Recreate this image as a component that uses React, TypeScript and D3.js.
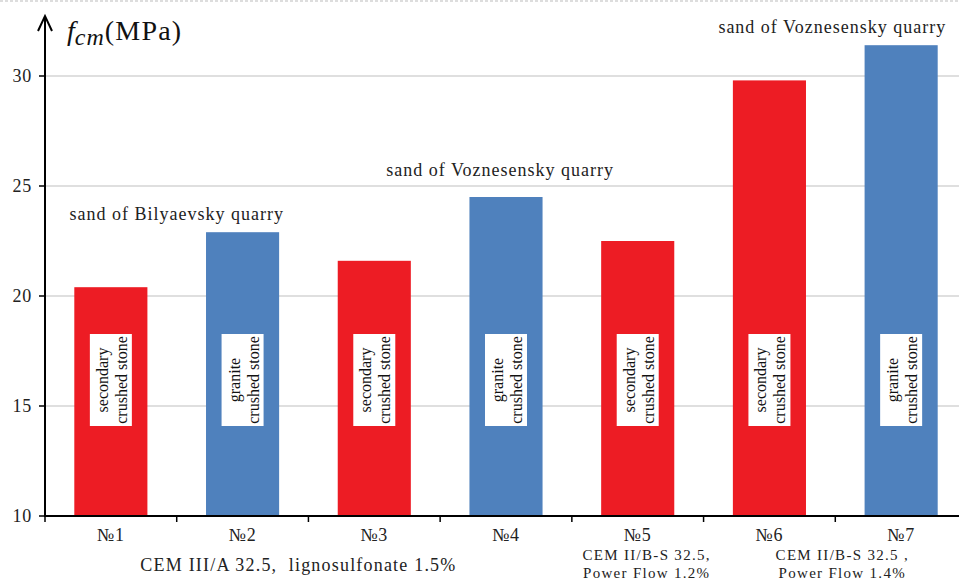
import { scaleBand, scaleLinear } from "d3";

const categories = ["№1", "№2", "№3", "№4", "№5", "№6", "№7"];
const values = [20.4, 22.9, 21.6, 24.5, 22.5, 29.8, 31.4];
const stoneTypes = ["secondary", "granite", "secondary", "granite", "secondary", "secondary", "granite"];
const yTicks = [10, 15, 20, 25, 30];
const sandNotes = [
  { text: "sand of Bilyaevsky quarry", after: "№1", value: 23.45, dx: 0 },
  { text: "sand of Voznesensky quarry", after: "№3", value: 25.45, dx: 60 },
  { text: "sand of Voznesensky quarry", after: "№6", value: 31.95, dx: -3 },
];
const groups = [
  { lines: ["CEM III/A 32.5,  lignosulfonate 1.5%"], from: "№1", to: "№4", dx: -10, ls: 1.2 },
  { lines: ["CEM II/B-S 32.5,", "Power Flow 1.2%"], from: "№5", to: "№5", dx: 9, ls: 1.3 },
  { lines: ["CEM II/B-S 32.5 ,", "Power Flow 1.4%"], from: "№6", to: "№7", dx: 7, ls: 1.3 },
];

const RED = "#ED1C24";
const BLUE = "#4F81BD";
const FONT = "'Liberation Serif', 'Times New Roman', serif";

export default function App() {
  const width = 959;
  const height = 582;
  const marginLeft = 45;
  const axisY = 516;

  const x = scaleBand<string>()
    .domain(categories)
    .range([marginLeft, marginLeft + 922])
    .paddingInner(0.445)
    .paddingOuter(0.2225);
  const step = x.step();
  const bandStart = (c: string) => (x(c) as number) - step * 0.2225;

  const y = scaleLinear([10, 30], [axisY, 76]);

  return (
    <svg
      width={width}
      height={height}
      style={{ position: "absolute", left: 0, top: 0, background: "white" }}
      fontFamily={FONT}
    >
      <line x1={0} x2={width} y1={1} y2={1} stroke="#bbb" strokeDasharray="3,2" />

      {yTicks.slice(1).map((t) => (
        <line key={t} x1={marginLeft} x2={width} y1={y(t)} y2={y(t)} stroke="#d4d4d4" strokeWidth={1.5} />
      ))}

      {categories.map((c, i) => (
        <rect
          key={c}
          x={x(c)}
          y={y(values[i])}
          width={x.bandwidth()}
          height={axisY - y(values[i])}
          fill={stoneTypes[i] === "granite" ? BLUE : RED}
        />
      ))}

      {categories.map((c, i) => {
        const cx = (x(c) as number) + x.bandwidth() / 2;
        const cy = 380;
        return (
          <g key={c}>
            <rect x={cx - 21} y={334} width={42} height={92} fill="white" />
            <text
              transform={`translate(${cx},${cy}) rotate(-90)`}
              textAnchor="middle"
              fontFamily={FONT}
              fontSize={16}
              fill="#111"
            >
              <tspan x={0} y={-3}>{stoneTypes[i]}</tspan>
              <tspan x={0} y={16}>crushed stone</tspan>
            </text>
          </g>
        );
      })}

      {/* axes */}
      <line x1={marginLeft} x2={width} y1={axisY} y2={axisY} stroke="#000" strokeWidth={2} />
      <line x1={marginLeft} x2={marginLeft} y1={axisY + 1} y2={16} stroke="#000" strokeWidth={2} />
      <path
        d={`M${marginLeft - 7},${31} L${marginLeft},${16} L${marginLeft + 7},${31}`}
        fill="none"
        stroke="#000"
        strokeWidth={2}
      />

      {yTicks.map((t) => (
        <g key={t}>
          <line x1={marginLeft - 6} x2={marginLeft} y1={y(t)} y2={y(t)} stroke="#000" strokeWidth={1.5} />
          <text
            x={32}
            y={y(t)}
            dy="0.35em"
            textAnchor="end"
            fontFamily={FONT}
            fontSize={18}
            letterSpacing={0.8}
            fill="#222"
          >
            {t}
          </text>
        </g>
      ))}

      {[...categories.map(bandStart), bandStart(categories[6]) + step].map((bx, i) => (
        <line key={i} x1={bx} x2={bx} y1={axisY} y2={axisY + 6} stroke="#000" strokeWidth={1.5} />
      ))}

      {categories.map((c) => (
        <text
          key={c}
          x={(x(c) as number) + x.bandwidth() / 2}
          y={541}
          textAnchor="middle"
          fontFamily={FONT}
          fontSize={18}
          letterSpacing={1}
          fill="#222"
        >
          {c}
        </text>
      ))}

      {groups.map((g, i) => {
        const cx = (bandStart(g.from) + bandStart(g.to) + step) / 2 + g.dx;
        return (
          <text
            key={i}
            textAnchor="middle"
            fontFamily={FONT}
            fontSize={g.lines.length === 1 ? 18 : 15}
            fill="#222"
            letterSpacing={g.ls}
            style={{ whiteSpace: "pre" }}
          >
            {g.lines.map((l, j) => (
              <tspan key={j} x={cx} y={g.lines.length === 1 ? 571 : 560 + j * 18}>
                {l}
              </tspan>
            ))}
          </text>
        );
      })}

      {sandNotes.map((n, i) => (
        <text
          key={i}
          x={bandStart(n.after) + step + n.dx}
          y={y(n.value)}
          textAnchor="middle"
          fontFamily={FONT}
          fontSize={18}
          letterSpacing={1}
          fill="#222"
        >
          {n.text}
        </text>
      ))}

      <text x={67} y={40} fontFamily={FONT} fontSize={28} fill="#111">
        <tspan fontStyle="italic">f</tspan>
        <tspan fontStyle="italic" fontSize={24} dy={5} letterSpacing={1}>cm</tspan>
        <tspan dy={-5} letterSpacing={1.2}>(MPa)</tspan>
      </text>
    </svg>
  );
}
